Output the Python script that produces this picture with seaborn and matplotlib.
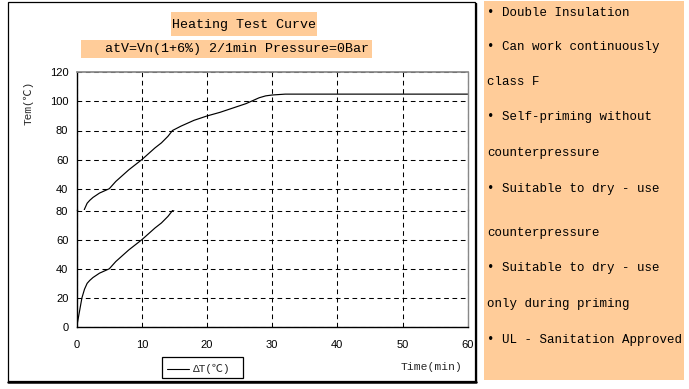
import matplotlib
matplotlib.use("Agg")
import matplotlib.pyplot as plt
import seaborn as sns
import pandas as pd
from matplotlib.patches import Rectangle
from matplotlib.lines import Line2D

# ---------------- data ----------------
time_min = [0, 0.4, 0.8, 1.2, 1.6, 2.0, 2.5, 3.0, 3.5, 4.0, 4.5, 5.0, 6.0, 7.0, 8.0, 9.0,
            10, 11, 12, 13, 14, 14.7, 16, 18, 20, 22, 24, 26, 27, 28, 29, 30, 32, 35, 40, 50, 60]
temp_c = [0, 10, 20, 26, 30, 32, 34, 35.5, 37, 38, 39, 40, 45, 49, 53, 56.5,
          60, 64, 68, 71.5, 76, 80, 83, 87, 90, 92.5, 95.5, 98.5, 100.5, 102.5, 103.8, 104.4, 105, 105, 105, 105, 105]
upper_yticks = [40, 60, 80, 100, 120]
lower_yticks = [0, 20, 40, 60, 80]
xticks = [0, 10, 20, 30, 40, 50, 60]
title = "Heating Test Curve"
subtitle = "atV=Vn(1+6%) 2/1min Pressure=0Bar"
ylabel = "Tem(℃)"
xlabel = "Time(min)"
legend_label = "ΔT(℃)"
panel_lines = ["• Double Insulation", "• Can work continuously", "class F",
               "• Self-priming without", "counterpressure", "• Suitable to dry - use",
               "counterpressure", "• Suitable to dry - use", "only during priming",
               "• UL - Sanitation Approved"]
panel_line_y = [13, 47, 82, 117, 153, 189, 233, 268, 304, 340]

df = pd.DataFrame({"t": time_min, "T": temp_c})

sns.set_theme(style="white")
mono = ["Liberation Mono", "DejaVu Sans Mono", "Noto Sans CJK SC", "DejaVu Sans"]
sansf = ["Liberation Sans", "DejaVu Sans"]
plt.rcParams["font.family"] = mono

W, H = 689, 389
fig = plt.figure(figsize=(W / 100, H / 100), dpi=100)
fig.patch.set_facecolor("white")

# background axes in pixel coordinates
bg = fig.add_axes([0, 0, 1, 1])
bg.set_xlim(0, W)
bg.set_ylim(H, 0)
bg.axis("off")
ORANGE = "#FFCC99"
# left panel frame
bg.add_patch(Rectangle((8, 2), 467, 379, fill=False, edgecolor="black", lw=0.9))
bg.add_line(Line2D([8, 476], [382, 382], color="black", lw=1.8))
bg.add_line(Line2D([476, 476], [3, 382], color="black", lw=1.0))
# right orange panel
bg.add_patch(Rectangle((484, 1), 200, 379, facecolor=ORANGE, edgecolor="none"))
for s, y in zip(panel_lines, panel_line_y):
    bg.text(487, y, s, fontsize=9, family=mono, ha="left", va="center", color="black")
# title boxes
bg.add_patch(Rectangle((170.5, 12.3), 146.5, 23.5, facecolor=ORANGE, edgecolor="none"))
bg.text(243.8, 24.5, title, fontsize=9.6, family=mono, ha="center", va="center", color="black")
bg.add_patch(Rectangle((81, 40), 291, 17.5, facecolor=ORANGE, edgecolor="none"))
bg.text(237, 49, subtitle, fontsize=9.6, family=mono, ha="center", va="center", color="black")
# axis labels
bg.text(28, 103, ylabel, fontsize=8, family=mono, rotation=90, ha="center", va="center")
bg.text(432, 367, xlabel, fontsize=8.2, family=mono, ha="center", va="center")
# legend box
bg.add_patch(Rectangle((162, 357), 81, 21, fill=False, edgecolor="black", lw=0.9))
bg.add_line(Line2D([166.5, 188.5], [368.5, 368.5], color="black", lw=0.8))
bg.text(212, 368.5, legend_label, fontsize=8, family=mono, ha="center", va="center")

# axes geometry
left = 76.7 / W
width = (467.7 - 76.7) / W
split = 209.5
ax_up = fig.add_axes([left, (H - split) / H, width, (split - 72.3) / H])
ax_lo = fig.add_axes([left, (H - 327.0) / H, width, (327.0 - split) / H])

dash = (0, (4.5, 3.5))
for ax in (ax_up, ax_lo):
    ax.set_facecolor("none")
    sns.lineplot(data=df, x="t", y="T", ax=ax, color="black", lw=0.85, legend=False)
    ax.set_xlim(0, 60)
    ax.set_xticks(xticks)
    ax.grid(True, color="black", linestyle=dash, lw=0.75)
    ax.tick_params(length=0, labelsize=8, pad=6, colors="black")
    ax.set_xlabel("")
    ax.set_ylabel("")
    ax.spines["left"].set_color("black")
    ax.spines["left"].set_linewidth(1.0)
    ax.spines["right"].set_color("#888888")
    ax.spines["right"].set_linewidth(1.0)

ax_up.set_ylim(120 - (split - 72.3) / 1.455, 120)
ax_up.set_yticks(upper_yticks)
ax_up.set_yticklabels([str(v) for v in upper_yticks], family=sansf)
ax_up.spines["bottom"].set_visible(False)
ax_up.spines["top"].set_color("#888888")
ax_up.tick_params(axis="x", labelbottom=False)

ax_lo.set_ylim(0, (327.0 - split) / 1.455)
ax_lo.set_yticks(lower_yticks)
ax_lo.set_yticklabels([str(v) for v in lower_yticks], family=sansf)
ax_lo.set_xticklabels([str(v) for v in xticks], family=sansf)
ax_lo.spines["top"].set_visible(False)
ax_lo.spines["bottom"].set_color("black")
ax_lo.spines["bottom"].set_linewidth(1.0)
ax_lo.tick_params(axis="x", pad=9)

fig.savefig("out.png", dpi=100)
